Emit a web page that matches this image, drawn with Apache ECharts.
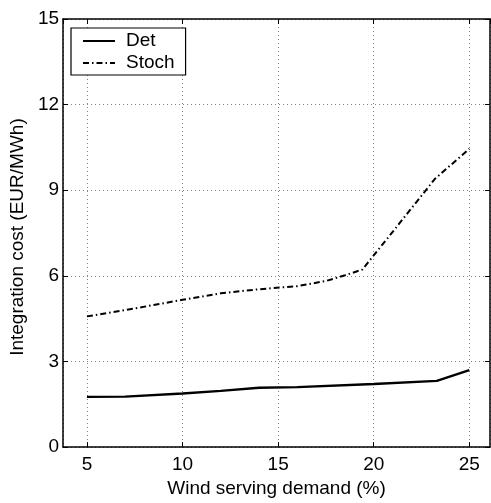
<!DOCTYPE html>
<html>
<head>
<meta charset="utf-8">
<script src="https://cdn.jsdelivr.net/npm/echarts@6/dist/echarts.min.js"></script>
<style>html,body{margin:0;padding:0;background:#fff}#c{width:491px;height:503px}</style>
</head>
<body>
<div id="c"></div>
<script>
// Data
var seriesNames = ['Det', 'Stoch'];
var detX = [5, 7, 10, 12, 14, 16, 20, 23.3, 25];
var detY = [1.76, 1.77, 1.88, 1.97, 2.08, 2.10, 2.21, 2.32, 2.70];
var stochX = [5, 7, 10, 12, 14, 16, 17.5, 18.5, 19.4, 21, 23.2, 25];
var stochY = [4.58, 4.80, 5.16, 5.39, 5.53, 5.64, 5.82, 6.02, 6.22, 7.55, 9.40, 10.45];
var xTicks = [5, 10, 15, 20, 25];
var yTicks = [0, 3, 6, 9, 12, 15];
var xTitle = 'Wind serving demand (%)';
var yTitle = 'Integration cost (EUR/MWh)';

function pairs(xs, ys) { return xs.map(function (x, i) { return [x, ys[i]]; }); }

var FONT = 'Liberation Sans';
var FS = 19;
var chart = echarts.init(document.getElementById('c'), null, {renderer: 'canvas'});
var gridSplit = {show: true, lineStyle: {color: '#808080', width: 1, type: [1, 3]}};
var axisLine = {show: true, onZero: false, lineStyle: {color: '#000', width: 1.5}};
var tick = {show: true, inside: true, length: 5, lineStyle: {color: '#000', width: 1}};
var xMin = 3.75, xMax = 26.08;
chart.setOption({
  animation: false,
  backgroundColor: '#fff',
  textStyle: {fontFamily: FONT},
  grid: {left: 62, right: 1, top: 19, bottom: 53, containLabel: false},
  legend: {
    data: seriesNames,
    orient: 'vertical',
    left: 71, top: 28,
    padding: [3, 11, 2, 11],
    borderColor: '#000', borderWidth: 1.2, backgroundColor: '#fff',
    itemWidth: 32, itemHeight: 14, itemGap: 2,
    itemStyle: {color: 'rgba(0,0,0,0)', borderWidth: 0, opacity: 0},
    textStyle: {fontFamily: FONT, fontSize: FS, color: '#000', padding: [0, 0, 0, 6], lineHeight: 20}
  },
  xAxis: [{
    type: 'value', min: xMin, max: xMax, splitNumber: 5,
    name: xTitle, nameLocation: 'middle', nameGap: 24,
    nameTextStyle: {fontFamily: FONT, fontSize: FS, color: '#000'},
    axisLine: axisLine, axisTick: tick,
    axisLabel: {color: '#000', fontFamily: FONT, fontSize: FS, margin: 8, showMinLabel: false, showMaxLabel: false,
      formatter: function (v) { return xTicks.indexOf(v) >= 0 ? String(v) : ''; }},
    splitLine: gridSplit
  }, {
    type: 'value', position: 'top', min: xMin, max: xMax, splitNumber: 5,
    axisLine: axisLine, axisTick: tick, axisLabel: {show: false}, splitLine: {show: false}
  }],
  yAxis: [{
    type: 'value', min: yTicks[0], max: yTicks[yTicks.length - 1], interval: 3,
    name: yTitle, nameLocation: 'middle', nameGap: 31,
    nameTextStyle: {fontFamily: FONT, fontSize: FS, color: '#000', padding: [0, 8, 0, 0]},
    axisLine: axisLine, axisTick: tick,
    axisLabel: {color: '#000', fontFamily: FONT, fontSize: FS, margin: 4},
    splitLine: gridSplit
  }, {
    type: 'value', position: 'right', min: yTicks[0], max: yTicks[yTicks.length - 1], interval: 3,
    axisLine: axisLine, axisTick: tick, axisLabel: {show: false}, splitLine: {show: false}
  }],
  series: [{
    name: seriesNames[0], type: 'line', data: pairs(detX, detY),
    symbol: 'none', smooth: false,
    lineStyle: {color: '#000', width: 2.4, type: 'solid'},
    itemStyle: {color: '#000'}
  }, {
    name: seriesNames[1], type: 'line', data: pairs(stochX, stochY),
    symbol: 'none', smooth: false,
    lineStyle: {color: '#000', width: 2, type: [6, 3, 1.5, 3]},
    itemStyle: {color: '#000'}
  }]
});
</script>
</body>
</html>
